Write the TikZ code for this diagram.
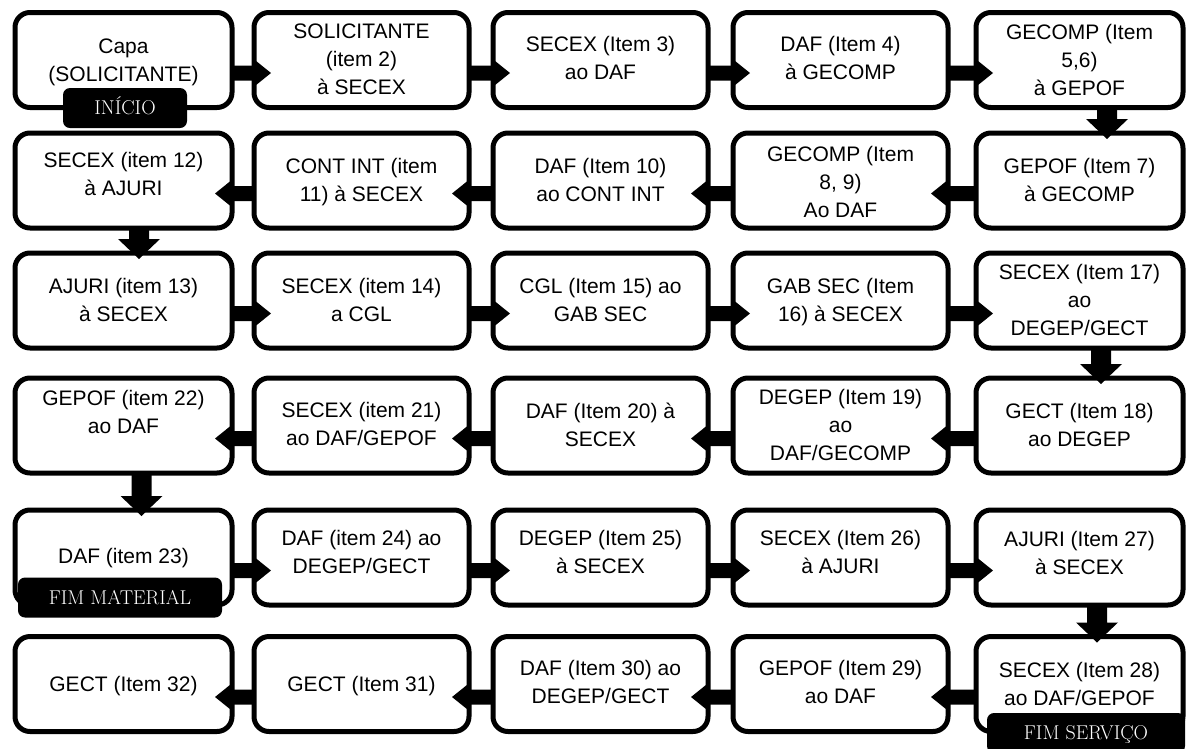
\documentclass[tikz,border=0pt]{standalone}
\usepackage{fontspec}
\newfontfamily\stagefont{Liberation Sans}

% one process stage: rounded frame plus its caption
% #1 name, #2 x, #3 y, #4 frame width, #5 caption y, #6 caption
\newcommand\stage[6]{%
  \node[stagebox, minimum width=#4pt] (#1) at (#2,#3) {};
  \node[stagetext] (#1-text) at (#2,#5) {#6};}

% block arrows between neighbouring stages
\newcommand\arrowright[2]{%
  \fill[blockarrow] ([yshift=-5.5pt]#1.east) -- ([xshift=-1pt,yshift=-5.5pt]#2.west)
    -- ([xshift=-1pt,yshift=1.5pt]#2.west) -- ([xshift=17pt,yshift=-13pt]#2.west)
    -- ([xshift=-1pt,yshift=-27.5pt]#2.west) -- ([xshift=-1pt,yshift=-20.5pt]#2.west)
    -- ([yshift=-20.5pt]#1.east) -- cycle;}
\newcommand\arrowleft[2]{%
  \fill[blockarrow] ([yshift=-5.5pt]#1.west) -- ([xshift=1pt,yshift=-5.5pt]#2.east)
    -- ([xshift=1pt,yshift=1.5pt]#2.east) -- ([xshift=-17pt,yshift=-13pt]#2.east)
    -- ([xshift=1pt,yshift=-27.5pt]#2.east) -- ([xshift=1pt,yshift=-20.5pt]#2.east)
    -- ([yshift=-20.5pt]#1.west) -- cycle;}
% #3: horizontal offset of the arrow from the frame centre
\newcommand\arrowdown[3]{%
  \fill[blockarrow] ([xshift={#3pt-10pt}]#1.south) -- ([xshift={#3pt-10pt},yshift=14pt]#2.north)
    -- ([xshift={#3pt-21pt},yshift=14pt]#2.north) -- ([xshift=#3pt,yshift=-6pt]#2.north)
    -- ([xshift={#3pt+21pt},yshift=14pt]#2.north) -- ([xshift={#3pt+10pt},yshift=14pt]#2.north)
    -- ([xshift={#3pt+10pt}]#1.south) -- cycle;}

\tikzset{
  stagebox/.style={draw=black, fill=white, line width=5pt, rounded corners=15pt,
    minimum height=95pt, inner sep=0pt, outer sep=0pt},
  stagetext/.style={font=\stagefont\fontsize{21}{28}\selectfont, align=center,
    inner sep=0pt, execute at begin node=\strut, execute at end node=\strut},
  tag/.style={fill=black, text=white, rounded corners=7pt, minimum height=40pt,
    inner sep=0pt, font=\fontsize{20}{23}\selectfont, text height=13.5pt, text depth=0pt},
  blockarrow/.style={fill=black},
}

\begin{document}
\begin{tikzpicture}[x=1pt, y=-1pt]
\useasboundingbox (0,0) rectangle (1187,748);
\clip (0,0) rectangle (1187,748);
\fill[white] (0,0) rectangle (1187,748);

% row 1, left to right
\stage{b1}{123.5}{60}{217}{64.5}{Capa\\(SOLICITANTE)}
\stage{b2}{361.5}{60}{215}{63}{SOLICITANTE\\(item 2)\\à SECEX}
\stage{b3}{600.5}{60}{215}{62}{SECEX (Item 3)\\ao DAF}
\stage{b4}{840.5}{60}{215}{62}{DAF (Item 4)\\à GECOMP}
\stage{b5}{1079.5}{60}{207}{64}{GECOMP (Item\\5,6)\\à GEPOF}

% row 2, right to left
\stage{b6}{1079.5}{180.5}{207}{184.5}{GEPOF (Item 7)\\à GECOMP}
\stage{b7}{840.5}{180.5}{215}{186.5}{GECOMP (Item\\8, 9)\\Ao DAF}
\stage{b8}{600.5}{180.5}{215}{184}{DAF (Item 10)\\ao CONT INT}
\stage{b9}{361.5}{180.5}{215}{184}{CONT INT (item\\11) à SECEX}
\stage{b10}{123.5}{180.5}{217}{178}{SECEX (item 12)\\à AJURI}

% row 3, left to right
\stage{b11}{123.5}{300.5}{217}{304}{AJURI (item 13)\\à SECEX}
\stage{b12}{361.5}{300.5}{215}{304}{SECEX (item 14)\\a CGL}
\stage{b13}{600.5}{300.5}{215}{304}{CGL (Item 15) ao\\GAB SEC}
\stage{b14}{840.5}{300.5}{215}{304}{GAB SEC (Item\\16) à SECEX}
\stage{b15}{1079.5}{300.5}{207}{304.5}{SECEX (Item 17)\\ao\\DEGEP/GECT}

% row 4, right to left
\stage{b16}{1079.5}{425.5}{207}{429.5}{GECT (Item 18)\\ao DEGEP}
\stage{b17}{840.5}{425.5}{215}{429}{DEGEP (Item 19)\\ao\\DAF/GECOMP}
\stage{b18}{600.5}{425.5}{215}{428.5}{DAF (Item 20) à\\SECEX}
\stage{b19}{361.5}{425.5}{215}{428.5}{SECEX (item 21)\\ao DAF/GEPOF}
\stage{b20}{123.5}{425.5}{217}{416.5}{GEPOF (item 22)\\ao DAF}

% row 5, left to right
\stage{b21}{123.5}{557.5}{217}{557.5}{DAF (item 23)}
\stage{b22}{361.5}{557.5}{215}{556.5}{DAF (item 24) ao\\DEGEP/GECT}
\stage{b23}{600.5}{557.5}{215}{556.5}{DEGEP (Item 25)\\à SECEX}
\stage{b24}{840.5}{557.5}{215}{556.5}{SECEX (Item 26)\\à AJURI}
\stage{b25}{1079.5}{557.5}{207}{557}{AJURI (Item 27)\\à SECEX}

% row 6, right to left
\stage{b26}{1079.5}{684}{207}{688.5}{SECEX (Item 28)\\ao DAF/GEPOF}
\stage{b27}{840.5}{684}{215}{686}{GEPOF (Item 29)\\ao DAF}
\stage{b28}{600.5}{684}{215}{686}{DAF (Item 30) ao\\DEGEP/GECT}
\stage{b29}{361.5}{684}{215}{685.5}{GECT (Item 31)}
\stage{b30}{123.5}{684}{217}{685.5}{GECT (Item 32)}

% milestone tags
\node[tag, minimum width=124pt] (start) at (125,108) {INÍCIO};
\node[tag, minimum width=204pt] (endmaterial) at (120,597.5) {FIM MATERIAL};
\node[tag, minimum width=198pt] (endservice) at (1086,733) {FIM SERVIÇO};

% flow
\arrowright{b1}{b2}\arrowright{b2}{b3}\arrowright{b3}{b4}\arrowright{b4}{b5}
\arrowdown{b5}{b6}{27.5}
\arrowleft{b6}{b7}\arrowleft{b7}{b8}\arrowleft{b8}{b9}\arrowleft{b9}{b10}
\arrowdown{b10}{b11}{15.5}
\arrowright{b11}{b12}\arrowright{b12}{b13}\arrowright{b13}{b14}\arrowright{b14}{b15}
\arrowdown{b15}{b16}{21.5}
\arrowleft{b16}{b17}\arrowleft{b17}{b18}\arrowleft{b18}{b19}\arrowleft{b19}{b20}
\arrowdown{b20}{b21}{18}
\arrowright{b21}{b22}\arrowright{b22}{b23}\arrowright{b23}{b24}\arrowright{b24}{b25}
\arrowdown{b25}{b26}{17.5}
\arrowleft{b26}{b27}\arrowleft{b27}{b28}\arrowleft{b28}{b29}\arrowleft{b29}{b30}
\end{tikzpicture}
\end{document}
